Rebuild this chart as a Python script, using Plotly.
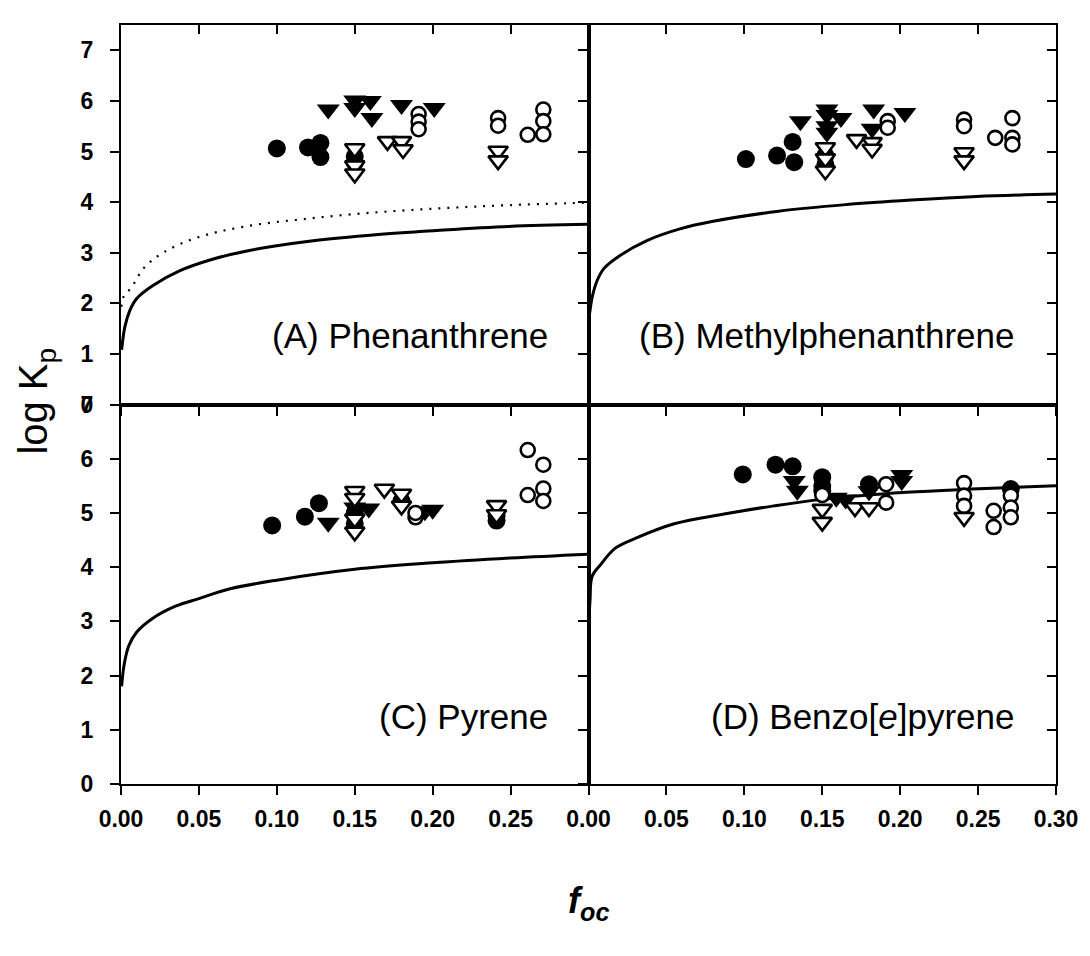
import plotly.graph_objects as go

# ---------------- data ----------------
# Panel A: Phenanthrene
A_fc_x = [0.100, 0.120, 0.128, 0.128, 0.150, 0.150]
A_fc_y = [5.06, 5.08, 5.17, 4.89, 4.90, 4.78]
A_ft_x = [0.133, 0.150, 0.150, 0.160, 0.161, 0.180, 0.201]
A_ft_y = [5.83, 6.01, 5.86, 6.00, 5.66, 5.92, 5.86]
A_oc_x = [0.191, 0.191, 0.191, 0.242, 0.242, 0.261, 0.271, 0.271, 0.271]
A_oc_y = [5.74, 5.59, 5.44, 5.66, 5.51, 5.33, 5.83, 5.60, 5.34]
A_ot_x = [0.150, 0.150, 0.150, 0.171, 0.180, 0.181, 0.242, 0.242]
A_ot_y = [5.06, 4.72, 4.56, 5.20, 5.20, 5.04, 5.01, 4.82]
A_curve_x = [0.0004, 0.0025, 0.0057, 0.010, 0.0205, 0.0375, 0.0587, 0.080, 0.122, 0.165, 0.207, 0.249, 0.300]
A_curve_y = [1.08, 1.54, 1.86, 2.09, 2.35, 2.64, 2.87, 3.03, 3.23, 3.36, 3.45, 3.52, 3.56]
A_dot_x = [0.0002, 0.0015, 0.0068, 0.015, 0.027, 0.048, 0.080, 0.122, 0.165, 0.207, 0.249, 0.300]
A_dot_y = [1.93, 2.12, 2.32, 2.71, 3.00, 3.29, 3.52, 3.68, 3.80, 3.88, 3.94, 3.99]

# Panel B: Methylphenanthrene
B_fc_x = [0.101, 0.121, 0.131, 0.132, 0.152, 0.152]
B_fc_y = [4.85, 4.92, 5.19, 4.79, 4.92, 4.74]
B_ft_x = [0.136, 0.153, 0.153, 0.153, 0.153, 0.162, 0.183, 0.182, 0.203]
B_ft_y = [5.60, 5.83, 5.72, 5.50, 5.37, 5.66, 5.83, 5.45, 5.76]
B_oc_x = [0.192, 0.192, 0.241, 0.241, 0.261, 0.272, 0.272, 0.272]
B_oc_y = [5.60, 5.47, 5.63, 5.50, 5.27, 5.66, 5.27, 5.14]
B_ot_x = [0.152, 0.152, 0.152, 0.172, 0.182, 0.182, 0.241, 0.241]
B_ot_y = [5.08, 4.86, 4.62, 5.24, 5.18, 5.05, 4.98, 4.82]
B_curve_x = [0.0004, 0.0025, 0.0057, 0.010, 0.0205, 0.0375, 0.0587, 0.080, 0.122, 0.165, 0.207, 0.249, 0.300]
B_curve_y = [1.72, 2.14, 2.46, 2.69, 2.95, 3.24, 3.47, 3.62, 3.82, 3.95, 4.04, 4.11, 4.16]

# Panel C: Pyrene
C_fc_x = [0.097, 0.118, 0.127, 0.150, 0.150, 0.180, 0.241, 0.241]
C_fc_y = [4.77, 4.93, 5.18, 5.00, 4.80, 5.22, 4.95, 4.86]
C_ft_x = [0.133, 0.150, 0.159, 0.195, 0.200]
C_ft_y = [4.82, 5.10, 5.08, 5.03, 5.06]
C_oc_x = [0.189, 0.189, 0.261, 0.271, 0.261, 0.271, 0.271]
C_oc_y = [4.92, 5.00, 6.16, 5.89, 5.33, 5.45, 5.22]
C_ot_x = [0.150, 0.150, 0.150, 0.150, 0.169, 0.180, 0.180, 0.241, 0.241]
C_ot_y = [5.40, 5.27, 4.89, 4.65, 5.44, 5.35, 5.13, 5.14, 4.97]
C_curve_x = [0.0004, 0.002, 0.005, 0.010, 0.020, 0.035, 0.050, 0.070, 0.100, 0.150, 0.200, 0.250, 0.300]
C_curve_y = [1.80, 2.20, 2.55, 2.80, 3.05, 3.28, 3.42, 3.60, 3.76, 3.96, 4.08, 4.17, 4.24]

# Panel D: Benzo[e]pyrene
D_fc_x = [0.099, 0.120, 0.131, 0.150, 0.150, 0.150, 0.180, 0.271]
D_fc_y = [5.71, 5.89, 5.86, 5.66, 5.50, 5.41, 5.53, 5.44]
D_ft_x = [0.132, 0.134, 0.159, 0.165, 0.180, 0.201, 0.201]
D_ft_y = [5.59, 5.41, 5.28, 5.25, 5.40, 5.59, 5.70]
D_oc_x = [0.150, 0.191, 0.191, 0.241, 0.241, 0.241, 0.260, 0.260, 0.271, 0.271, 0.271]
D_oc_y = [5.33, 5.53, 5.19, 5.55, 5.32, 5.13, 5.04, 4.74, 5.32, 5.10, 4.92]
D_ot_x = [0.150, 0.150, 0.171, 0.180, 0.241]
D_ot_y = [5.07, 4.83, 5.10, 5.10, 4.92]
D_curve_x = [0.0003, 0.001, 0.0023, 0.0076, 0.0172, 0.030, 0.055, 0.087, 0.119, 0.150, 0.204, 0.246, 0.300]
D_curve_y = [3.00, 3.40, 3.83, 4.04, 4.35, 4.53, 4.80, 4.98, 5.13, 5.25, 5.38, 5.44, 5.50]

panel_labels = ["(A) Phenanthrene", "(B) Methylphenanthrene", "(C) Pyrene", "(D) Benzo[<i>e</i>]pyrene"]
x_ticks = [0.00, 0.05, 0.10, 0.15, 0.20, 0.25, 0.30]
y_ticks = [0, 1, 2, 3, 4, 5, 6, 7]

panels = [
    dict(fc=(A_fc_x, A_fc_y), ft=(A_ft_x, A_ft_y), oc=(A_oc_x, A_oc_y), ot=(A_ot_x, A_ot_y),
         curve=(A_curve_x, A_curve_y), dot=(A_dot_x, A_dot_y)),
    dict(fc=(B_fc_x, B_fc_y), ft=(B_ft_x, B_ft_y), oc=(B_oc_x, B_oc_y), ot=(B_ot_x, B_ot_y),
         curve=(B_curve_x, B_curve_y), dot=None),
    dict(fc=(C_fc_x, C_fc_y), ft=(C_ft_x, C_ft_y), oc=(C_oc_x, C_oc_y), ot=(C_ot_x, C_ot_y),
         curve=(C_curve_x, C_curve_y), dot=None),
    dict(fc=(D_fc_x, D_fc_y), ft=(D_ft_x, D_ft_y), oc=(D_oc_x, D_oc_y), ot=(D_ot_x, D_ot_y),
         curve=(D_curve_x, D_curve_y), dot=None),
]

FONT = "Arial, Liberation Sans, Helvetica, sans-serif"
fig = go.Figure()

def ax(i):
    return "" if i == 1 else str(i)

for i, p in enumerate(panels, start=1):
    xr, yr = "x" + ax(i), "y" + ax(i)
    if p["dot"] is not None:
        fig.add_trace(go.Scatter(x=p["dot"][0], y=p["dot"][1], mode="lines",
                                 line=dict(color="black", width=2.2, dash="2px,7px", shape="spline"),
                                 xaxis=xr, yaxis=yr, showlegend=False, hoverinfo="skip"))
    fig.add_trace(go.Scatter(x=p["curve"][0], y=p["curve"][1], mode="lines",
                             line=dict(color="black", width=3, shape="spline"),
                             xaxis=xr, yaxis=yr, showlegend=False, hoverinfo="skip"))
    fig.add_trace(go.Scatter(x=p["fc"][0], y=p["fc"][1], mode="markers",
                             marker=dict(symbol="circle", size=18, color="black", line=dict(width=0)),
                             xaxis=xr, yaxis=yr, showlegend=False))
    fig.add_trace(go.Scatter(x=p["ft"][0], y=p["ft"][1], mode="markers",
                             marker=dict(symbol="triangle-down", size=20, color="black", line=dict(width=0)),
                             xaxis=xr, yaxis=yr, showlegend=False))
    fig.add_trace(go.Scatter(x=p["oc"][0], y=p["oc"][1], mode="markers",
                             marker=dict(symbol="circle", size=14, color="white", line=dict(width=2.6, color="black")),
                             xaxis=xr, yaxis=yr, showlegend=False))
    fig.add_trace(go.Scatter(x=p["ot"][0], y=p["ot"][1], mode="markers",
                             marker=dict(symbol="triangle-down", size=17, color="white", line=dict(width=2.6, color="black")),
                             xaxis=xr, yaxis=yr, showlegend=False))
    # dummy trace for overlay (top/right) axes
    fig.add_trace(go.Scatter(x=[None], y=[None], xaxis="x" + str(i + 4), yaxis="y" + str(i + 4),
                             showlegend=False, hoverinfo="skip"))

layout = {}
common = dict(showgrid=False, zeroline=False, showline=True, linecolor="black", linewidth=2,
              tickcolor="black", tickwidth=2, ticklen=9,
              tickfont=dict(family=FONT, size=23, color="black", weight="bold"))
for i in range(1, 5):
    top = i <= 2
    left = i in (1, 3)
    xd = [0, 0.5] if left else [0.5, 1]
    yd = [0.5, 1] if top else [0, 0.5]
    yrange = [0, 7.5] if top else [0, 7]
    xt = x_ticks if not left else x_ticks[:-1]
    layout["xaxis" + ax(i)] = dict(common, domain=xd, anchor="y" + ax(i), range=[0, 0.30],
                                   tickvals=xt, ticktext=["%.2f" % v for v in xt], ticks="outside",
                                   showticklabels=not top, ticklabelstandoff=4)
    layout["yaxis" + ax(i)] = dict(common, domain=yd, anchor="x" + ax(i), range=yrange,
                                   tickvals=y_ticks, ticks="outside", showticklabels=left,
                                   ticklabelstandoff=12)
    layout["xaxis" + str(i + 4)] = dict(common, overlaying="x" + ax(i), anchor="y" + ax(i), side="top",
                                        range=[0, 0.30], tickvals=x_ticks, ticks="inside", showticklabels=False)
    layout["yaxis" + str(i + 4)] = dict(common, overlaying="y" + ax(i), anchor="x" + ax(i), side="right",
                                        range=yrange, tickvals=y_ticks, ticks="inside", showticklabels=False)

annotations = []
label_pos = [(0.275, 1.36), (0.275, 1.36), (0.275, 1.24), (0.275, 1.24)]
for i, (lab, (lx, ly)) in enumerate(zip(panel_labels, label_pos), start=1):
    annotations.append(dict(text=lab, x=lx, y=ly, xref="x" + ax(i), yref="y" + ax(i),
                            xanchor="right", yanchor="middle", showarrow=False,
                            font=dict(family=FONT, size=35, color="black")))
annotations.append(dict(text="log K<sub>p</sub>", x=-0.091, y=0.505, xref="paper", yref="paper",
                        textangle=-90, showarrow=False, xanchor="center", yanchor="middle",
                        font=dict(family=FONT, size=40, color="black")))
annotations.append(dict(text="<b><i>f</i></b><sub><b><i>oc</i></b></sub>", x=0.5, y=-0.157,
                        xref="paper", yref="paper", showarrow=False, xanchor="center", yanchor="middle",
                        font=dict(family=FONT, size=36, color="black")))

fig.update_layout(**layout)
fig.update_layout(width=1090, height=956, margin=dict(l=121, r=25, t=14, b=172),
                  plot_bgcolor="white", paper_bgcolor="white", annotations=annotations,
                  showlegend=False)
fig.write_html("out.html")
